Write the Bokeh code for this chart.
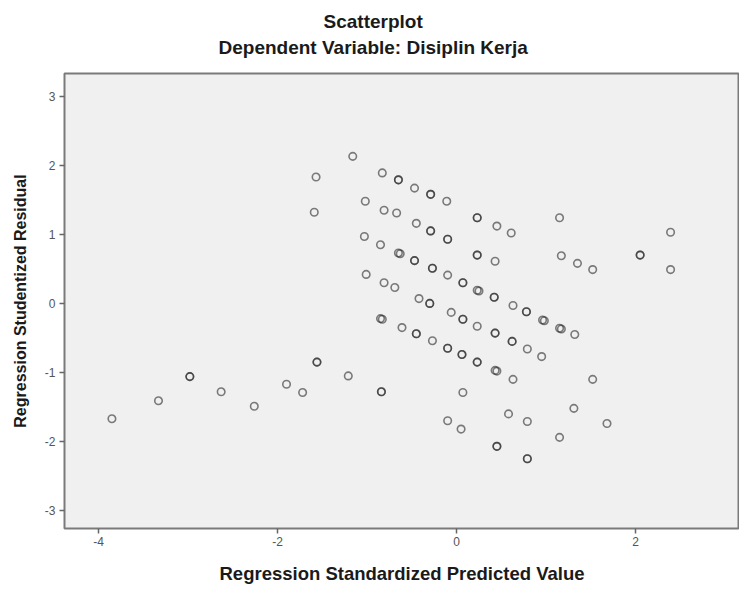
from bokeh.plotting import figure
from bokeh.models import ColumnDataSource, FixedTicker, Title, CustomJSTickFormatter
from bokeh.embed import file_html
from bokeh.resources import INLINE

# Regression Standardized Predicted Value (x) / Studentized Residual (y)
pred = [
    -3.85, -3.33, -2.98, -2.98, -2.63, -2.26, -1.90, -1.72, -1.56, -1.56, -1.21, -0.84, -0.84,
    -1.16, -1.57, -1.59,
    -0.83, -0.65, -0.65, -0.47, -0.29, -0.29, -0.11, 0.23, 0.23, 0.45, 0.61,
    -1.02, -0.81, -0.67, -0.45, -0.29, -0.29, -0.10, -0.10, 0.23, 0.23, 0.43,
    -1.03, -0.85, -0.65, -0.63, -0.47, -0.47, -0.27, -0.27, -0.10, 0.07, 0.07, 0.23, 0.25,
    0.42, 0.42, 0.63, 0.78, 0.78, 0.96, 0.98, 1.15, 1.17, 1.32,
    -1.01, -0.81, -0.69, -0.42, -0.30, -0.30, -0.06, 0.07, 0.07, 0.23, 0.43, 0.43,
    0.62, 0.62, 0.79, 0.95,
    -0.85, -0.83, -0.61, -0.45, -0.45, -0.27, -0.10, -0.10, 0.06, 0.06, 0.23, 0.23,
    0.43, 0.45, 0.63,
    1.15, 1.17, 1.35, 1.52, 2.05, 2.05, 2.39, 2.39, 1.52,
    0.07, -0.10, 0.05, 0.58, 0.79, 1.31, 1.68, 1.15, 0.45, 0.45, 0.79, 0.79,
]
resid = [
    -1.67, -1.41, -1.06, -1.06, -1.28, -1.49, -1.17, -1.29, -0.85, -0.85, -1.05, -1.28, -1.28,
    2.13, 1.83, 1.32,
    1.89, 1.79, 1.79, 1.67, 1.58, 1.58, 1.48, 1.24, 1.24, 1.12, 1.02,
    1.48, 1.35, 1.31, 1.16, 1.05, 1.05, 0.93, 0.93, 0.70, 0.70, 0.61,
    0.97, 0.85, 0.73, 0.72, 0.62, 0.62, 0.51, 0.51, 0.41, 0.30, 0.30, 0.19, 0.18,
    0.09, 0.09, -0.03, -0.12, -0.12, -0.24, -0.25, -0.36, -0.37, -0.45,
    0.42, 0.30, 0.23, 0.07, 0.00, 0.00, -0.13, -0.23, -0.23, -0.33, -0.43, -0.43,
    -0.55, -0.55, -0.66, -0.77,
    -0.22, -0.23, -0.35, -0.44, -0.44, -0.54, -0.65, -0.65, -0.74, -0.74, -0.85, -0.85,
    -0.97, -0.98, -1.10,
    1.24, 0.69, 0.58, 0.49, 0.70, 0.70, 1.03, 0.49, -1.10,
    -1.29, -1.70, -1.82, -1.60, -1.71, -1.52, -1.74, -1.94, -2.07, -2.07, -2.25, -2.25,
]

x_ticks = [-4, -2, 0, 2]
y_ticks = [-3, -2, -1, 0, 1, 2, 3]
title_text = "Scatterplot"
subtitle_text = "Dependent Variable: Disiplin Kerja"
x_label = "Regression Standardized Predicted Value"
y_label = "Regression Studentized Residual"

FONT = "Liberation Sans"

p = figure(width=739, height=586, output_backend="svg", toolbar_location=None,
           x_range=(-4.38, 3.16), y_range=(-3.26, 3.33),
           min_border_left=64, min_border_right=0, min_border_top=73, min_border_bottom=54)
p.background_fill_color = "#f0f0f0"
p.border_fill_color = "white"
p.outline_line_color = "#7a7a7a"
p.outline_line_width = 2
p.xgrid.visible = False
p.ygrid.visible = False

src = ColumnDataSource(dict(x=pred, y=resid))
p.scatter("x", "y", source=src, marker="circle", size=7.5, fill_color=None,
          line_color="#2a2a2a", line_alpha=0.6, line_width=1.6)

fmt = CustomJSTickFormatter(code="return tick.toString();")
for ax, ticks in ((p.xaxis, x_ticks), (p.yaxis, y_ticks)):
    ax.ticker = FixedTicker(ticks=ticks)
    ax.formatter = fmt
    ax.minor_tick_line_color = None
    ax.axis_line_color = None
    ax.major_tick_line_color = "#666666"
    ax.major_tick_line_width = 1.5
    ax.major_tick_out = 5
    ax.major_tick_in = 0
    ax.major_label_text_font = FONT
    ax.major_label_text_font_size = "12px"
    ax.major_label_text_color = "#555555"
    ax.axis_label_text_font = FONT
    ax.axis_label_text_font_style = "bold"
    ax.axis_label_text_color = "#1a1a1a"

p.xaxis.axis_label = x_label
p.yaxis.axis_label = y_label
p.xaxis.axis_label_text_font_size = "18.5px"
p.yaxis.axis_label_text_font_size = "16px"
p.xaxis.major_label_standoff = 3
p.yaxis.major_label_standoff = 4
p.xaxis.axis_label_standoff = 14
p.yaxis.axis_label_standoff = 13

# subtitle first (closest to the frame), then the main title above it
p.add_layout(Title(text=subtitle_text, align="left", offset=154, standoff=32,
                   text_font=FONT, text_font_size="19px", text_font_style="bold",
                   text_color="#1a1a1a"), "above")
p.add_layout(Title(text=title_text, align="left", offset=259, standoff=-26,
                   text_font=FONT, text_font_size="19px", text_font_style="bold",
                   text_color="#1a1a1a"), "above")

open("out.html", "w").write(file_html(p, INLINE))
